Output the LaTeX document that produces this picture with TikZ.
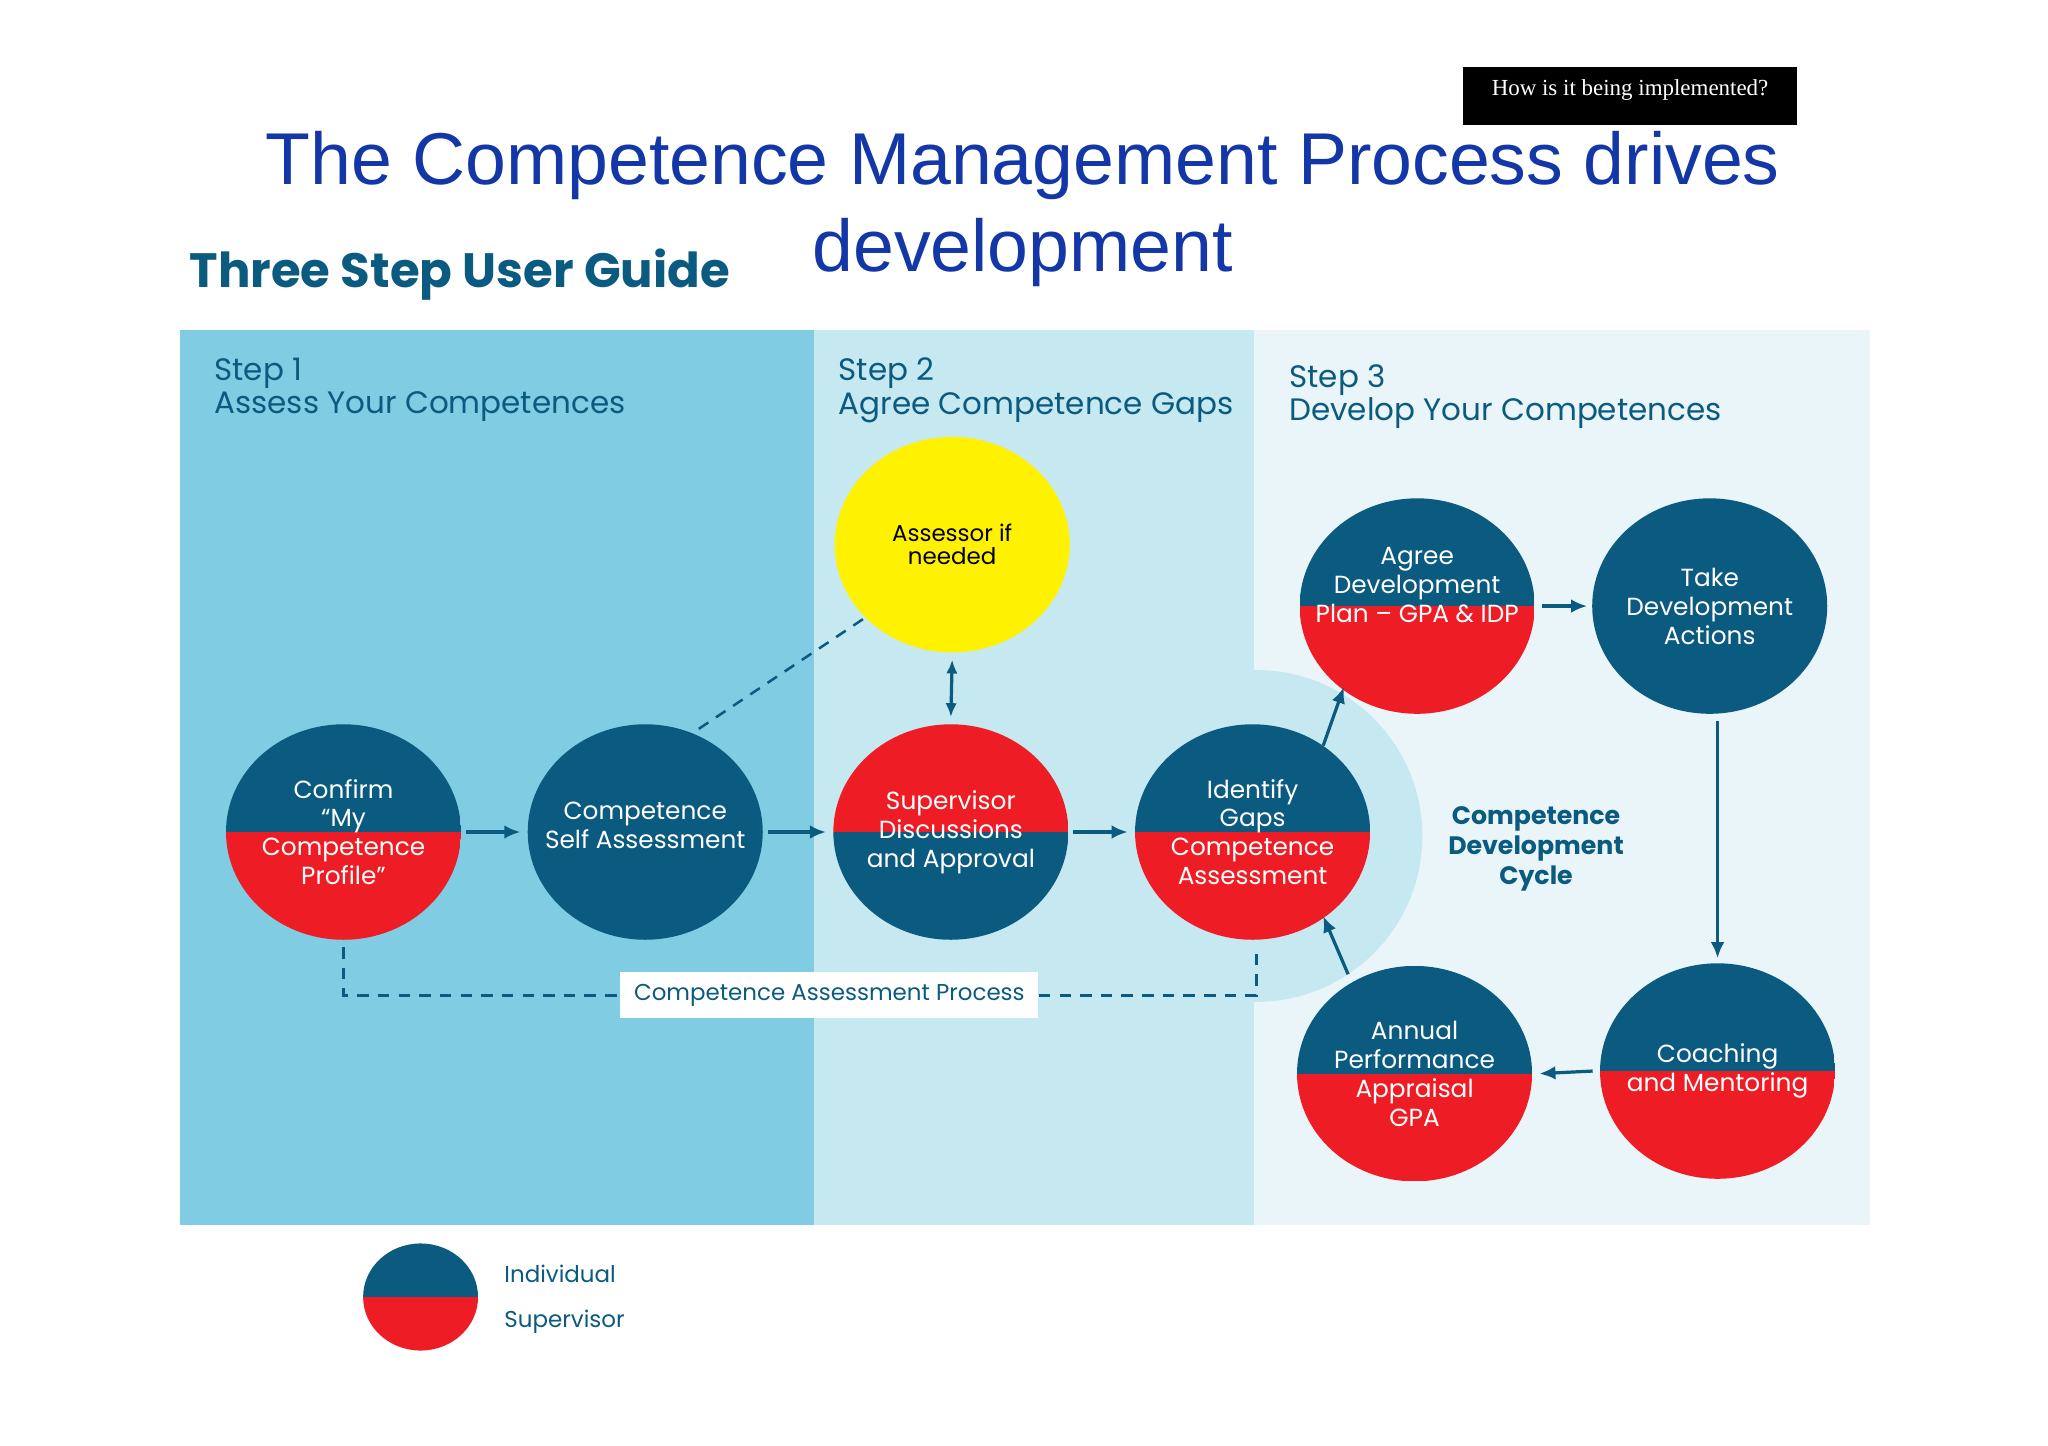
\documentclass[tikz,border=0pt]{standalone}
\usepackage{fontspec}
\setmainfont{Poppins}
\newfontfamily\liber{Liberation Sans}
\newfontfamily\serifb{Liberation Serif}
\usetikzlibrary{shapes.geometric,arrows.meta}
\definecolor{dblue}{HTML}{0B5A80}
\definecolor{hred}{HTML}{EE1C25}
\definecolor{pA}{HTML}{80CDE3}
\definecolor{pB}{HTML}{C6E8F0}
\definecolor{pC}{HTML}{E9F5F8}
\definecolor{ttl}{HTML}{1437A8}
\definecolor{ylw}{HTML}{FFF200}
\tikzset{
 circ/.style={ellipse,minimum width=3.6cm,minimum height=3.3cm,inner sep=0pt},
 lab/.style={label={[align=center,text=white,font=\fontsize{10.8}{12.6}\selectfont]center:#1}},
 br/.style={circ,path picture={\fill[dblue] (path picture bounding box.north west) rectangle (path picture bounding box.east);\fill[hred] (path picture bounding box.west) rectangle (path picture bounding box.south east);}},
 rb/.style={circ,path picture={\fill[hred] (path picture bounding box.north west) rectangle (path picture bounding box.east);\fill[dblue] (path picture bounding box.west) rectangle (path picture bounding box.south east);}},
 arr/.style={draw=dblue,line width=1.4pt,-{Latex[length=7pt,width=6pt]}},
 dsh/.style={draw=dblue,line width=1.1pt,dash pattern=on 5pt off 4pt},
 stepl/.style={anchor=north west,align=left,text=dblue,font=\fontsize{13.5}{14.5}\selectfont}
}
\begin{document}
\begin{tikzpicture}[x=0.02cm,y=-0.02cm]
\useasboundingbox[fill=white] (0,0) rectangle (1568,1107);
\fill[pA] (138,253) rectangle (623,938);
\fill[pB] (623,253) rectangle (960,938);
\fill[pC] (960,253) rectangle (1432,938);
\begin{scope}
\clip (960,253) rectangle (1432,938);
\fill[pB] (962,640) circle[radius=127];
\end{scope}
\fill[black] (1120,51) rectangle (1376,96);
\node[text=white,font=\serifb\fontsize{10}{11}\selectfont] (hb) at (1248,69) {How is it being implemented?};
\node[text=ttl,font=\liber\fontsize{32}{38}\selectfont,align=center] (title) at (783,160) {The Competence Management Process drives\\development};
\node[text=dblue,font=\fontsize{21}{22}\selectfont\bfseries] (guide) at (352,210) {Three Step User Guide};
\node[stepl] (s1) at (158,268) {Step 1\\Assess Your Competences};
\node[stepl] (s2) at (636,268) {Step 2\\Agree Competence Gaps};
\node[stepl] (s3) at (981,273) {Step 3\\Develop Your Competences};

\node[br,lab={Confirm\\``My\\Competence\\Profile''}] (c1) at (263,637) {};
\node[circ,fill=dblue,label={[align=center,text=white,font=\fontsize{10.8}{12.6}\selectfont,yshift=3pt]center:Competence\\Self Assessment}] (c2) at (494,637) {};
\node[rb,lab={Supervisor\\Discussions\\and Approval}] (c3) at (728,637) {};
\node[br,lab={Identify\\Gaps\\Competence\\Assessment}] (c4) at (959,637) {};
\node[circ,fill=ylw,label={[align=center,font=\fontsize{10}{10}\selectfont]center:Assessor if\\needed}] (as) at (729,417) {};
\node[br,lab={Agree\\Development\\Plan -- GPA \& IDP\\[6pt]}] (ag) at (1085,464) {};
\node[circ,fill=dblue,lab={Take\\Development\\Actions}] (tk) at (1309,464) {};
\node[br,lab={Coaching\\and Mentoring}] (co) at (1315,820) {};
\node[br,lab={Annual\\Performance\\Appraisal\\GPA}] (an) at (1083,822) {};
\node[text=dblue,align=center,font=\fontsize{11}{13}\selectfont\bfseries] (cyc) at (1176,650) {Competence\\Development\\Cycle};

\draw[arr] ([xshift=2pt]c1.east) -- ([xshift=-3pt]c2.west);
\draw[arr] ([xshift=2pt]c2.east) -- ([xshift=-3pt]c3.west);
\draw[arr] ([xshift=2pt]c3.east) -- ([xshift=-3pt]c4.west);
\draw[arr,{Latex[length=6pt,width=5pt]}-{Latex[length=6pt,width=5pt]}] ([yshift=-3pt]as.south) -- ([yshift=3pt]c3.north);
\draw[arr] ([shift={(3pt,-2pt)}]c4.55) -- ([shift={(-2pt,3pt)}]ag.232);
\draw[arr] ([xshift=3pt]ag.east) -- ([xshift=-2pt]tk.west);
\draw[arr] ([yshift=-3pt]tk.south -| co.north) -- ([yshift=2pt]co.north);
\draw[arr] ([xshift=-3pt]co.west) -- ([xshift=3pt]an.east);
\draw[arr] ([shift={(1pt,5pt)}]an.128) -- ([shift={(3pt,3pt)}]c4.-55);

\draw[dsh] ([yshift=-3pt]c1.south) -- (263,762) -- (962,762) -- (962,727);
\node[fill=white,text=dblue,font=\fontsize{10}{11}\selectfont,minimum height=0.7cm,inner xsep=6pt] (cap) at (635,762) {Competence Assessment Process};
\draw[dsh] (535,558) -- (as.220);

\node[br,minimum width=1.76cm,minimum height=1.64cm] (lg) at (322,993) {};
\node[anchor=west,text=dblue,font=\fontsize{10}{11}\selectfont] (li) at (380,975) {Individual};
\node[anchor=west,text=dblue,font=\fontsize{10}{11}\selectfont] (ls) at (380,1012) {Supervisor};
\end{tikzpicture}
\end{document}
